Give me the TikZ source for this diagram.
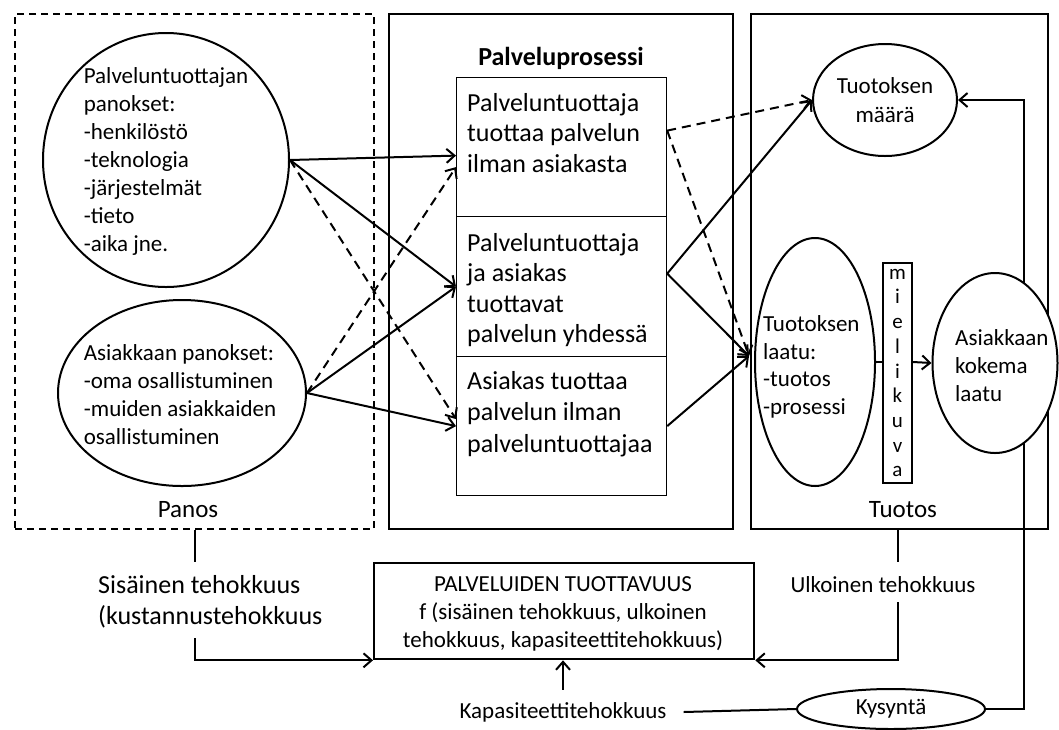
\documentclass[tikz,border=0pt]{standalone}
\usepackage{fontspec}
\setmainfont{Carlito}
\usetikzlibrary{arrows.meta,shapes.geometric,calc}

\newcommand{\fsz}[2]{\fontsize{#1}{#2}\selectfont}

\begin{document}
\begin{tikzpicture}[x=1pt,y=-1pt,
  frame/.style={draw,line width=2.3pt,inner sep=0pt,anchor=north west},
  stage/.style={draw,line width=1.2pt,minimum width=210pt,inner sep=0pt,anchor=north west},
  bubble/.style={draw,ellipse,line width=2pt,fill=white,inner sep=0pt},
  txt/.style={inner sep=0pt,align=left},
  arr/.style={line width=2pt,-{Straight Barb[length=8pt,width=14pt]}},
  darr/.style={arr,dash pattern=on 9pt off 6pt},
  link/.style={line width=2pt},
]
\useasboundingbox (0,0) rectangle (1059,729);
\fill[white] (0,0) rectangle (1059,729);

% three columns
\node[frame,dash pattern=on 7pt off 5pt,minimum width=359pt,minimum height=515pt] (panos) at (14,13) {};
\node[frame,minimum width=344pt,minimum height=515pt] (proc) at (388,13) {};
\node[frame,minimum width=297pt,minimum height=515pt] (outp) at (750,13) {};

\node[inner sep=0pt,font=\fsz{25}{30}] (panoslbl) at (188,510) {Panos};
\node[inner sep=0pt,font=\fsz{25}{30}] (tuotoslbl) at (903,510) {Tuotos};
\node[inner sep=0pt,font=\bfseries\fsz{26}{30}] (proclbl) at (561,58) {Palveluprosessi};

% inputs
\node[bubble,minimum width=246pt,minimum height=254pt] (inA) at (166,160) {};
\node[txt,font=\fsz{23}{28}] (inAtxt) at (166,161) {Palveluntuottajan\\panokset:\\-henkilöstö\\-teknologia\\-järjestelmät\\-tieto\\-aika jne.};
\node[bubble,minimum width=248pt,minimum height=186pt] (inB) at (182,393) {};
\node[txt,font=\fsz{23}{28}] (inBtxt) at (180,395) {Asiakkaan panokset:\\-oma osallistuminen\\-muiden asiakkaiden\\osallistuminen};

% process stages
\node[stage,minimum height=139pt] (p1) at (456,77) {};
\node[stage,minimum height=140pt] (p2) at (456,216) {};
\node[stage,minimum height=139pt] (p3) at (456,356) {};
\node[txt,anchor=west,font=\fsz{26}{30.5}] (p1txt) at (467,133) {Palveluntuottaja\\tuottaa palvelun\\ilman asiakasta};
\node[txt,anchor=west,font=\fsz{26}{30.5}] (p2txt) at (467,290) {Palveluntuottaja\\ja asiakas\\tuottavat\\palvelun yhdessä};
\node[txt,anchor=west,font=\fsz{26}{31.5}] (p3txt) at (467,414) {Asiakas tuottaa\\palvelun ilman\\palveluntuottajaa};

% outputs
\node[bubble,minimum width=144pt,minimum height=112pt,align=center,font=\fsz{23}{29}] (maara) at (885,100) {Tuotoksen\\määrä};
\node[bubble,minimum width=120pt,minimum height=248pt] (laatu) at (815,362) {};
\node[txt,anchor=west,font=\fsz{23}{27.5}] (laatutxt) at (763,367) {Tuotoksen\\laatu:\\-tuotos\\-prosessi};
\node[draw,line width=2pt,fill=white,inner sep=0pt,minimum width=29pt,minimum height=220pt,align=center,font=\fsz{21}{24.7}] (mieli) at (897.5,373) {m\\i\\e\\l\\i\\k\\u\\v\\a};

% productivity
\node[frame,minimum width=380pt,minimum height=96pt] (prod) at (373,562) {};
\node[inner sep=0pt,align=center,font=\fsz{23}{28}] (prodtxt) at (563,614) {PALVELUIDEN TUOTTAVUUS\\f (sisäinen tehokkuus, ulkoinen\\tehokkuus, kapasiteettitehokkuus)};
\node[txt,anchor=west,font=\fsz{26}{31}] (sis) at (98,602) {Sisäinen tehokkuus\\(kustannustehokkuus};
\node[inner sep=0pt,font=\fsz{23}{28}] (ulk) at (883,585) {Ulkoinen tehokkuus};
\node[inner sep=0pt,font=\fsz{23}{28}] (kap) at (563,712) {Kapasiteettitehokkuus};
\node[bubble,minimum width=188pt,minimum height=40pt,font=\fsz{23}{28}] (kys) at (891,709) {Kysyntä};

% input to process
\draw[arr] (inA.east) -- ($(p1.west)+(0,8.5)$);
\draw[arr] (inA.east) -- (p2.west);
\draw[darr] (inA.east) -- ($(p3.west)+(0,-7)$);
\draw[darr] (inB.east) -- ($(p1.west)+(0,20)$);
\draw[arr] (inB.east) -- (p2.west);
\draw[arr] (inB.east) -- (p3.west);

% process to output
\coordinate (qin) at (749,356);
\draw[darr] ($(p1.east)+(0,-16.5)$) -- (maara.west);
\draw[darr] ($(p1.east)+(0,-16.5)$) -- (qin);
\draw[arr] ($(p2.east)+(0,-13)$) -- (maara.west);
\draw[arr] ($(p2.east)+(0,-13)$) -- (qin);
\draw[arr] (p3.east) -- (qin);

% demand feeds back to volume
\draw[arr] (kys.east) -| ($(maara.east)+(66,0)$) -- (maara.east);

\node[bubble,minimum width=125pt,minimum height=180pt] (asiak) at (995,363) {};
\node[txt,anchor=west,font=\fsz{23}{28}] (asiaktxt) at (955,366) {Asiakkaan\\kokema\\laatu};

\draw[link] (laatu.east) -- (laatu.east -| mieli.west);
\draw[arr] (laatu.east -| mieli.east) -- (asiak.west);

% efficiencies into productivity
\coordinate (sisTop) at (195,562);
\coordinate (sisBot) at (195,638);
\draw[link] (panos.south -| sisTop) -- (sisTop);
\draw[arr] (sisBot) |- (prod.south west);
\coordinate (ulkTop) at (898,562);
\coordinate (ulkBot) at (898,602);
\draw[link] (outp.south -| ulkTop) -- (ulkTop);
\draw[arr] (ulkBot) |- (prod.south east);
\draw[arr] ($(kap.north)+(0,-12)$) -- (kap.north |- prod.south);
\draw[link] ($(kap.east)+(17,0)$) -- (kys.west);
\end{tikzpicture}
\end{document}
